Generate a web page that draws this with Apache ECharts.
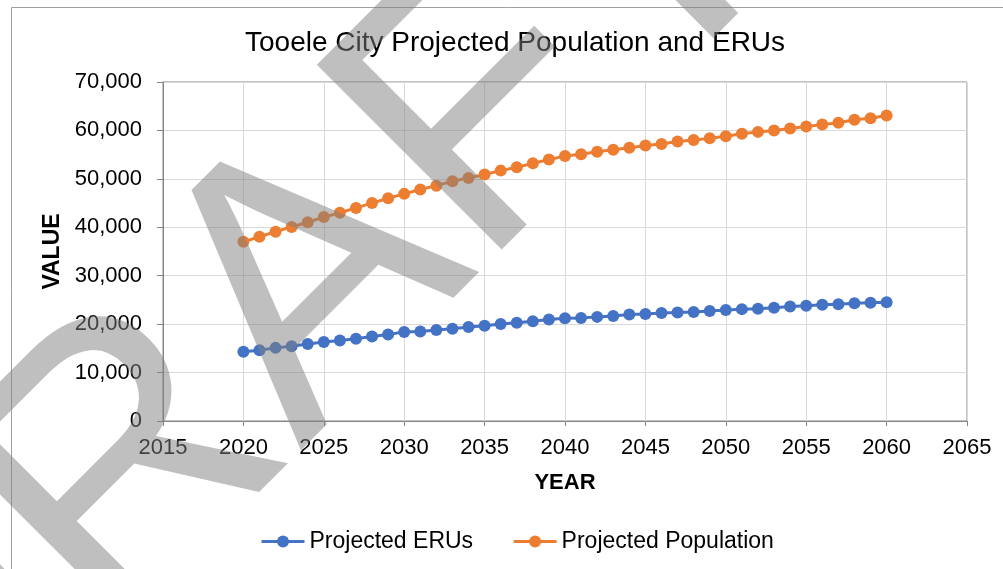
<!DOCTYPE html>
<html>
<head>
<meta charset="utf-8">
<script src="https://cdn.jsdelivr.net/npm/echarts@6/dist/echarts.min.js"></script>
<style>
  html, body { margin: 0; padding: 0; background: #fff; }
  #chart { width: 1003px; height: 569px; }
</style>
</head>
<body>
<div id="chart"></div>
<script>
// projection years
const years = [2020, 2021, 2022, 2023, 2024, 2025, 2026, 2027, 2028, 2029,
  2030, 2031, 2032, 2033, 2034, 2035, 2036, 2037, 2038, 2039,
  2040, 2041, 2042, 2043, 2044, 2045, 2046, 2047, 2048, 2049,
  2050, 2051, 2052, 2053, 2054, 2055, 2056, 2057, 2058, 2059, 2060];

const projectedErus = [14300, 14600, 15100, 15450, 15900, 16300, 16600, 17000, 17450, 17850,
  18400, 18500, 18800, 19050, 19400, 19650, 20050, 20300, 20600, 20950,
  21200, 21250, 21500, 21700, 22000, 22100, 22300, 22400, 22500, 22700,
  22900, 23100, 23200, 23400, 23650, 23800, 24000, 24100, 24300, 24400, 24500];

const projectedPopulation = [37000, 38050, 39100, 40050, 41050, 42100, 43000, 44000, 45000, 46000,
  46900, 47800, 48600, 49500, 50200, 50900, 51700, 52400, 53200, 54000,
  54700, 55100, 55600, 56000, 56400, 56900, 57200, 57700, 58000, 58400,
  58800, 59300, 59700, 60000, 60400, 60800, 61200, 61600, 62200, 62500, 63100];

const seriesNames = ['Projected ERUs', 'Projected Population'];
const seriesColors = ['#4472C4', '#ED7D31'];

const FONT = '"Liberation Sans", Arial, sans-serif';
const AXIS_GREY = '#868686';

const chart = echarts.init(document.getElementById('chart'));

const makeSeries = (name, values, color) => ({
  name: name,
  type: 'line',
  data: years.map((y, i) => [y, values[i]]),
  symbol: 'circle',
  symbolSize: 12,
  color: color,
  lineStyle: { width: 3, color: color },
  itemStyle: { color: color }
});

const option = {
  animation: false,
  backgroundColor: '#fff',
  title: {
    text: 'Tooele City Projected Population and ERUs',
    left: 240,
    top: 24,
    textStyle: { fontFamily: FONT, fontSize: 28, fontWeight: 'normal', color: '#000' }
  },
  grid: {
    left: 163, right: 36, top: 82, bottom: 148,
    show: true, borderColor: AXIS_GREY, borderWidth: 1
  },
  legend: {
    left: 260,
    top: 530,
    padding: 0,
    itemWidth: 43,
    itemHeight: 15,
    itemGap: 39,
    data: seriesNames,
    lineStyle: { width: 3 },
    textStyle: { fontFamily: FONT, fontSize: 23, color: '#000' }
  },
  xAxis: {
    type: 'value',
    min: 2015, max: 2065, interval: 5,
    name: 'YEAR',
    nameLocation: 'middle',
    nameGap: 51,
    nameTextStyle: { fontFamily: FONT, fontSize: 22, fontWeight: 'bold', color: '#000' },
    axisLine: { show: true, lineStyle: { color: AXIS_GREY, width: 1 } },
    axisTick: { show: true, length: 5, lineStyle: { color: AXIS_GREY } },
    axisLabel: { margin: 16, fontFamily: FONT, fontSize: 22, color: '#000', formatter: v => String(v) },
    splitLine: { show: true, lineStyle: { color: '#d9d9d9', width: 1 } }
  },
  yAxis: {
    type: 'value',
    min: 0, max: 70000, interval: 10000,
    name: 'VALUE',
    nameLocation: 'middle',
    nameGap: 99,
    nameRotate: 90,
    nameTextStyle: { fontFamily: FONT, fontSize: 23, fontWeight: 'bold', color: '#000' },
    axisLine: { show: true, lineStyle: { color: AXIS_GREY, width: 1 } },
    axisTick: { show: true, length: 6, lineStyle: { color: AXIS_GREY } },
    axisLabel: { margin: 21, fontFamily: FONT, fontSize: 22, color: '#000',
      formatter: v => v.toLocaleString('en-US') },
    splitLine: { show: true, lineStyle: { color: '#d9d9d9', width: 1 } }
  },
  series: [
    makeSeries(seriesNames[0], projectedErus, seriesColors[0]),
    makeSeries(seriesNames[1], projectedPopulation, seriesColors[1])
  ],
  graphic: [
    // outer chart border
    {
      type: 'rect', silent: true, z: -1,
      shape: { x: 11.5, y: 7.5, width: 1200, height: 800 },
      style: { fill: 'none', stroke: '#a0a0a0', lineWidth: 1 }
    },
    // DRAFT watermark laid over the chart
    {
      type: 'text', silent: true, z: 100,
      x: 286, y: 317,
      rotation: Math.PI / 4,
      style: {
        text: 'DRAFT',
        font: '380px "Liberation Sans"',
        fill: 'rgba(128,128,128,0.5)',
        textAlign: 'center', textVerticalAlign: 'middle',
        align: 'center', verticalAlign: 'middle'
      }
    }
  ]
};

chart.setOption(option);
</script>
</body>
</html>
